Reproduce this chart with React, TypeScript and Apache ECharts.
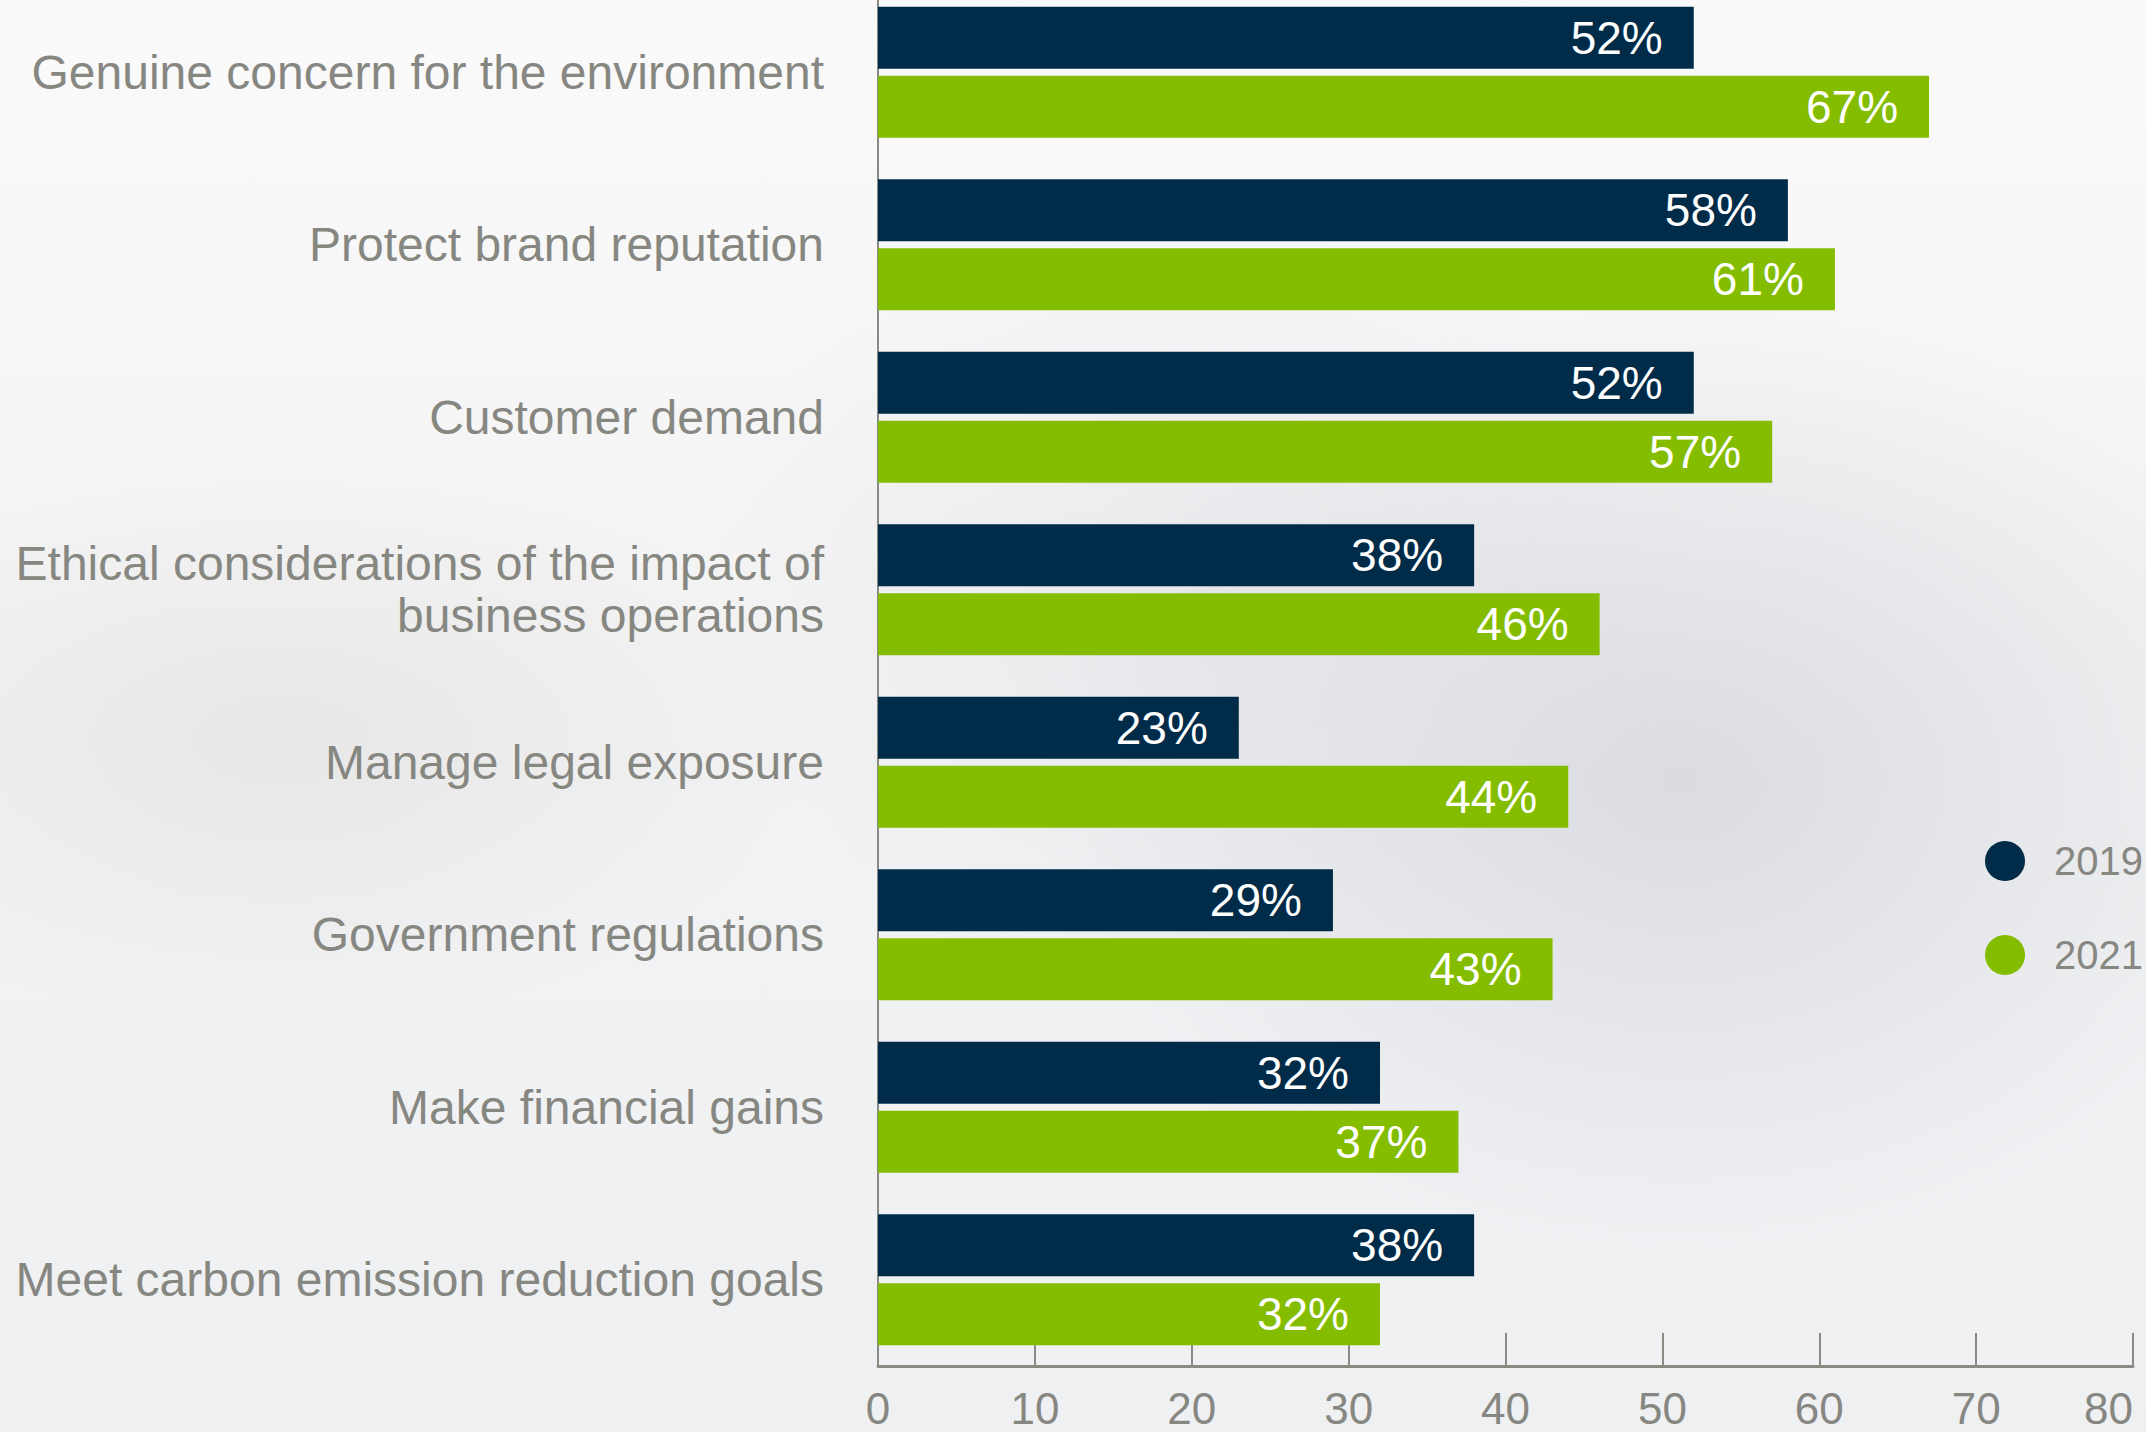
import React, { useEffect, useRef } from "react";
import * as echarts from "echarts";

const categories = [
  "Genuine concern for the environment",
  "Protect brand reputation",
  "Customer demand",
  "Ethical considerations of the impact of\nbusiness operations",
  "Manage legal exposure",
  "Government regulations",
  "Make financial gains",
  "Meet carbon emission reduction goals",
];
const values2019 = [52, 58, 52, 38, 23, 29, 32, 38];
const values2021 = [67, 61, 57, 46, 44, 43, 37, 32];
const seriesNames = ["2019", "2021"];
const xTicks = { min: 0, max: 80, interval: 10 };

const FONT = '"Liberation Sans", Arial, Helvetica, sans-serif';
const GRAY = "#878782";
const SHIFT = 14;

export default function App() {
  const ref = useRef<HTMLDivElement>(null);
  useEffect(() => {
    if (!ref.current) return;
    const chart = echarts.init(ref.current, null, { renderer: "svg" });
    const labelCfg = {
      show: true,
      position: "insideRight",
      distance: 31,
      color: "#ffffff",
      fontSize: 46,
      fontFamily: FONT,
      formatter: "{c}%",
    };
    chart.setOption({
      animation: false,
      backgroundColor: "transparent",
      grid: { left: 878, top: 0, width: 1255, height: 1380, containLabel: false },
      legend: {
        orient: "vertical",
        left: 1980,
        top: 836 + SHIFT,
        icon: "circle",
        itemWidth: 40,
        itemHeight: 40,
        itemGap: 54,
        data: seriesNames,
        textStyle: {
          fontSize: 40,
          fontFamily: FONT,
          color: GRAY,
          lineHeight: 40,
          padding: [0, 0, 0, 24],
        },
      },
      xAxis: {
        type: "value",
        min: xTicks.min,
        max: xTicks.max,
        interval: xTicks.interval,
        splitLine: { show: false },
        axisLine: { show: true, lineStyle: { color: "#8a8a85", width: 3 } },
        axisTick: { show: true, inside: true, length: 33, lineStyle: { color: "#8a8a85", width: 2 } },
        axisLabel: {
          margin: 20,
          fontSize: 44,
          fontFamily: FONT,
          color: GRAY,
          alignMaxLabel: "right",
        },
      },
      yAxis: {
        type: "category",
        inverse: true,
        data: categories,
        axisLine: { show: true, lineStyle: { color: "#8a8a85", width: 2 } },
        axisTick: { show: false },
        axisLabel: {
          margin: 54,
          fontSize: 48,
          fontFamily: FONT,
          color: GRAY,
          lineHeight: 52,
          align: "right",
        },
      },
      series: [
        {
          name: seriesNames[0],
          type: "bar",
          data: values2019,
          barWidth: 62,
          barGap: "11%",
          itemStyle: { color: "#002b49" },
          label: labelCfg,
        },
        {
          name: seriesNames[1],
          type: "bar",
          data: values2021,
          barWidth: 62,
          barGap: "11%",
          itemStyle: { color: "#84bd00" },
          label: labelCfg,
        },
      ],
    });
    return () => chart.dispose();
  }, []);
  return (
    <div
      style={{
        position: "absolute",
        left: 0,
        top: 0,
        width: 2146,
        height: 1432,
        overflow: "hidden",
        background:
          "radial-gradient(ellipse 650px 480px at 1680px 780px, rgba(212,214,220,0.8), rgba(212,214,220,0) 100%)," +
          "radial-gradient(ellipse 550px 280px at 280px 740px, rgba(224,222,222,0.55), rgba(224,222,222,0) 100%)," +
          "radial-gradient(ellipse 500px 400px at 1200px 600px, rgba(226,227,231,0.6), rgba(226,227,231,0) 100%)," +
          "linear-gradient(180deg, #fafafa 0%, #f3f3f4 45%, #eef0f2 100%)",
      }}
    >
      <div
        ref={ref}
        style={{
          position: "absolute",
          left: 0,
          top: -SHIFT,
          width: 2146,
          height: 1432 + SHIFT,
        }}
      />
    </div>
  );
}
